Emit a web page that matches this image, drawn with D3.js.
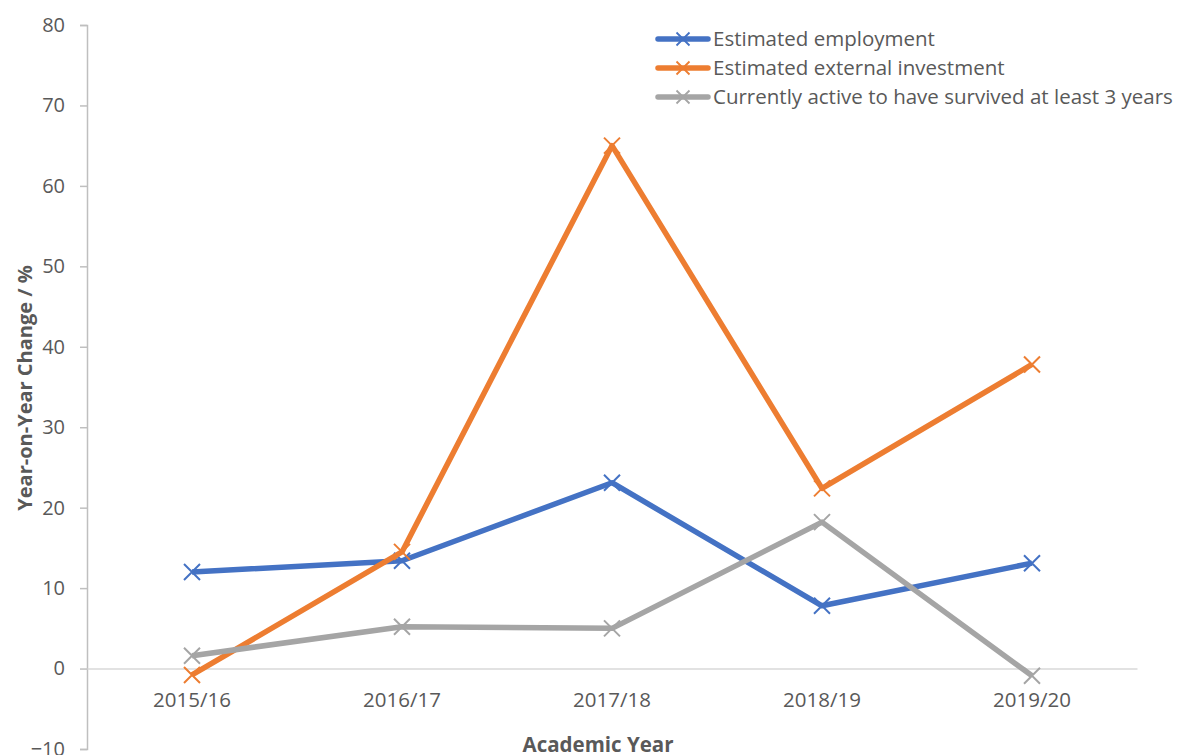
<!DOCTYPE html>
<html>
<head>
<meta charset="utf-8">
<script src="https://cdn.jsdelivr.net/npm/d3@7"></script>
<style>
  html, body { margin: 0; padding: 0; background: #ffffff; }
  svg { display: block; }
  text { font-family: "Open Sans", "Noto Sans", sans-serif; fill: #595959; }
</style>
</head>
<body>
<div id="chart"></div>
<script>
// Academic years on the x axis
const years = ["2015/16", "2016/17", "2017/18", "2018/19", "2019/20"];

// Year-on-year change (%) per series
const employment = [12.0, 13.4, 23.1, 7.8, 13.1];
const investment = [-0.8, 14.5, 65.0, 22.4, 37.8];
const survival   = [1.6, 5.2, 5.0, 18.2, -0.9];

const seriesNames = [
  "Estimated employment",
  "Estimated external investment",
  "Currently active to have survived at least 3 years"
];
const seriesColors = ["#4472C4", "#ED7D31", "#A5A5A5"];
const yTicks = [-10, 0, 10, 20, 30, 40, 50, 60, 70, 80];

const W = 1178, H = 755;
const plotLeft = 87, plotRight = 1137, plotTop = 25, plotBottom = 749;
const fontSize = "20px";

const svg = d3.select("#chart").append("svg")
  .attr("width", W).attr("height", H);

const x = d3.scaleBand().domain(years).range([plotLeft, plotRight]).padding(0);
const y = d3.scaleLinear().domain([-10, 80]).range([plotBottom, plotTop]);

// Y axis
const yAxis = svg.append("g")
  .attr("transform", `translate(${plotLeft},0)`)
  .call(d3.axisLeft(y).tickValues(yTicks).tickSize(7).tickPadding(15).tickFormat(d3.format("d")));
yAxis.select(".domain").attr("stroke", "#BFBFBF").attr("stroke-width", 1.5);
yAxis.selectAll(".tick line").attr("stroke", "#BFBFBF").attr("stroke-width", 1.5);
yAxis.selectAll(".tick text")
  .style("font-size", fontSize).attr("fill", "#595959");

// Zero baseline with category labels
const xAxis = svg.append("g")
  .attr("transform", `translate(0,${y(0)})`)
  .call(d3.axisBottom(x).tickSize(0).tickPadding(24));
xAxis.select(".domain").attr("stroke", "#D9D9D9").attr("stroke-width", 1.5);
xAxis.selectAll(".tick text")
  .style("font-size", "20.5px").attr("fill", "#595959");

// Axis titles
svg.append("text")
  .attr("transform", `translate(32,388) rotate(-90)`)
  .attr("text-anchor", "middle")
  .style("font-size", fontSize).style("font-weight", "bold")
  .text("Year-on-Year Change / %");

svg.append("text")
  .attr("x", 598).attr("y", 752)
  .attr("text-anchor", "middle")
  .style("font-size", "20.5px").style("font-weight", "bold")
  .text("Academic Year");

// Lines and cross markers
const line = d3.line()
  .x((d, i) => x(years[i]) + x.bandwidth() / 2)
  .y(d => y(d));

const crossPath = s => `M${-s},${-s}L${s},${s}M${-s},${s}L${s},${-s}`;

[employment, investment, survival].forEach((vals, k) => {
  const g = svg.append("g");
  g.append("path")
    .datum(vals)
    .attr("d", line)
    .attr("fill", "none")
    .attr("stroke", seriesColors[k])
    .attr("stroke-width", 5.5)
    .attr("stroke-linejoin", "round");
  g.selectAll("path.mark")
    .data(vals)
    .join("path")
    .attr("class", "mark")
    .attr("transform", (d, i) => `translate(${x(years[i]) + x.bandwidth() / 2},${y(d)})`)
    .attr("d", crossPath(8))
    .attr("stroke", seriesColors[k])
    .attr("stroke-width", 2)
    .attr("fill", "none");
});

// Legend
const legend = svg.append("g");
seriesNames.forEach((name, k) => {
  const ly = 39 + k * 29;
  legend.append("line")
    .attr("x1", 658).attr("x2", 708).attr("y1", ly).attr("y2", ly)
    .attr("stroke", seriesColors[k]).attr("stroke-width", 5.5).attr("stroke-linecap", "round");
  legend.append("path")
    .attr("transform", `translate(683,${ly})`)
    .attr("d", crossPath(6.5))
    .attr("stroke", seriesColors[k]).attr("stroke-width", 1.8).attr("fill", "none");
  legend.append("text")
    .attr("x", 713).attr("y", ly + 7)
    .style("font-size", "20.5px")
    .text(name);
});
</script>
</body>
</html>
